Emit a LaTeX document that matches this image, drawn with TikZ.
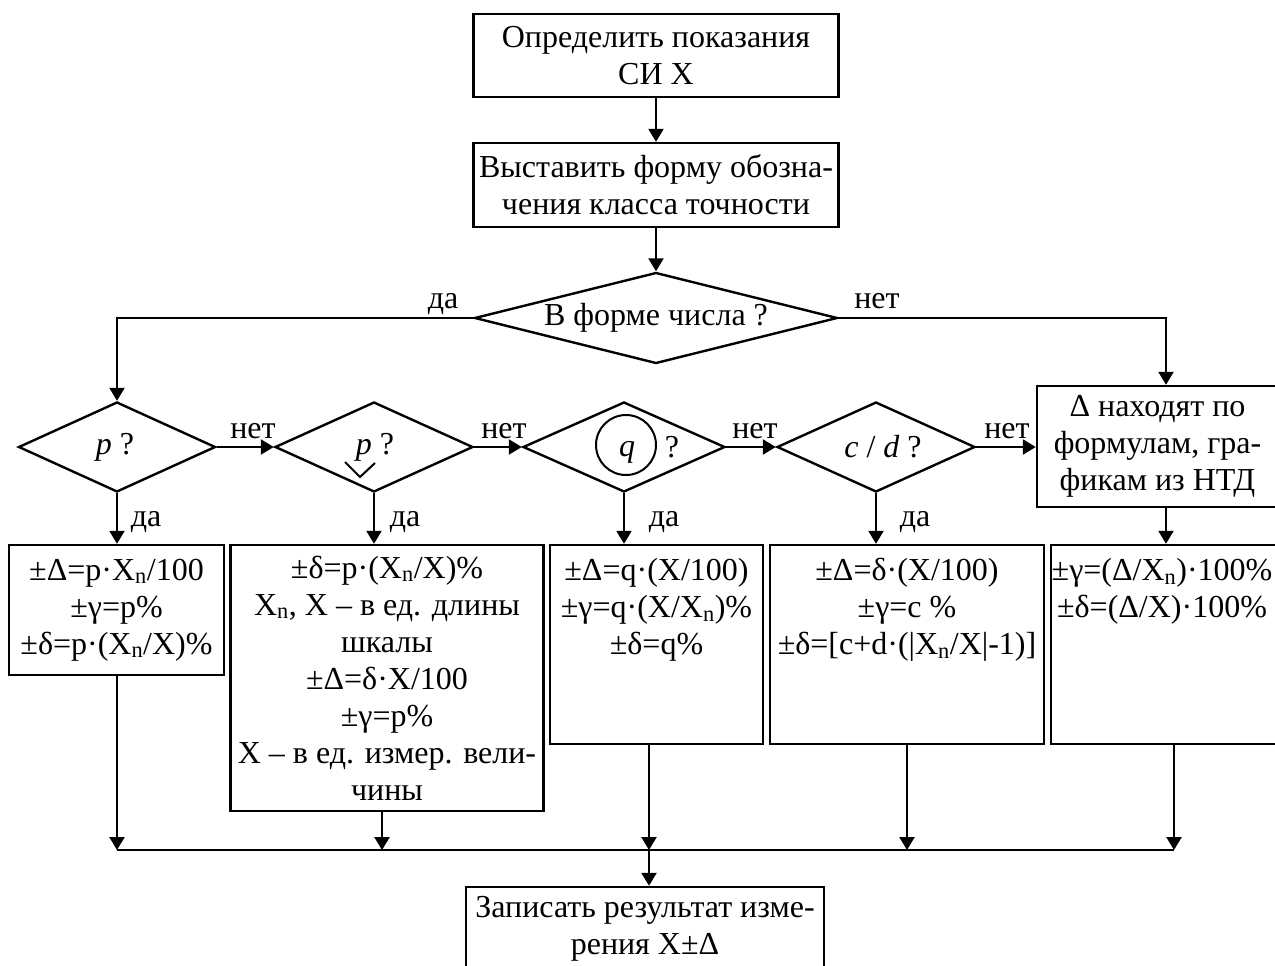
\documentclass[tikz,border=0pt]{standalone}
\usepackage{fontspec}
\setmainfont{Liberation Serif}
\usetikzlibrary{shapes.geometric,arrows.meta}
\newcommand{\xn}{X\textsubscript{n}}
\begin{document}
\begin{tikzpicture}[x=1pt,y=-1pt,
  every node/.style={font=\fontsize{32}{37}\selectfont, inner sep=0pt},
  box/.style={draw, line width=2.4pt, rectangle, align=center},
  dia/.style={draw, line width=2.4pt, diamond},
  conn/.style={line width=2.3pt},
  arr/.style={line width=2.3pt, -{Triangle[length=13pt,width=15pt]}},
  txt/.style={align=center, anchor=north},
  lbl/.style={anchor=base}]
\useasboundingbox (0,0) rectangle (1275,966);
\clip (0,0) rectangle (1275,966);

% top boxes
\node[box, minimum width=365pt, minimum height=83pt] (b1) at (656,55.5) {Определить показания\\СИ Х};
\node[box, minimum width=365pt, minimum height=84pt] (b2) at (656,185) {Выставить форму обозна-\\чения класса точности};
\node[dia, minimum width=363pt, minimum height=91pt] (dm) at (656,318) {};
\node (dmt) at (656,318) {В форме числа ?};

% diamonds row
\node[dia, minimum width=197pt, minimum height=90pt] (d1) at (117,447) {};
\node[dia, minimum width=198pt, minimum height=90pt] (d2) at (374,447) {};
\node[dia, minimum width=202pt, minimum height=90pt] (d3) at (624,447) {};
\node[dia, minimum width=198pt, minimum height=90pt] (d4) at (876,447) {};
\node (d1t) at (115,447) {\textit{p} ?};
\node (d2t) at (375,447) {\textit{p} ?};
\draw[line width=2pt] (345,462) -- (360,477) -- (375,463);
\node[draw, circle, line width=2pt, minimum size=60pt] (qc) at (626,445) {};
\node (d3t) at (627,452) {\textit{q}};
\node (d3q) at (672,447) {?};
\node (d4t) at (883,447) {\textit{c} / \textit{d} ?};

\node[box, minimum width=241pt, minimum height=121pt] (bD) at (1157.5,446.5) {Δ находят по\\формулам, гра-\\фикам из НТД};

% result boxes
\node[box, minimum width=215pt, minimum height=130pt] (bA) at (116.5,610) {±Δ=p·\xn/100\\±γ=p\%\\±δ=p·(\xn/X)\%};
\node[box, minimum width=313pt, minimum height=266pt] (bB) at (387,678) {±δ=p·(\xn/X)\%\\\xn, X – в ед. длины\\шкалы\\±Δ=δ·X/100\\±γ=p\%\\X – в ед. измер. вели-\\чины};
\node[box, minimum width=213pt, minimum height=199pt] (bC) at (656.5,644.5) {};
\node[box, minimum width=274pt, minimum height=199pt] (bDD) at (907,644.5) {};
\node[box, minimum width=230pt, minimum height=199pt] (bE) at (1166,644.5) {};
\node[txt] (tC) at ([yshift=-11pt]bC.north) {\strut ±Δ=q·(X/100)\\±γ=q·(X/\xn)\%\\±δ=q\%};
\node[txt] (tD) at ([yshift=-11pt]bDD.north) {\strut ±Δ=δ·(X/100)\\±γ=c \%\\±δ=[c+d·(|\xn/X|-1)]};
\node[txt] (tE) at ([yshift=-11pt,xshift=-4pt]bE.north) {\strut ±γ=(Δ/\xn)·100\%\\±δ=(Δ/X)·100\%};

\node[box, minimum width=358pt, minimum height=84pt] (bF) at (645,929) {Записать результат изме-\\рения Х±Δ};

% labels
\node[lbl] (l0) at (443,308) {да};
\node[lbl] (l1) at (877,308) {нет};
\node[lbl] (n1) at (253,438) {нет};
\node[lbl] (n2) at (504,438) {нет};
\node[lbl] (n3) at (755,438) {нет};
\node[lbl] (n4) at (1007,438) {нет};
\node[lbl] (y1) at (146,526) {да};
\node[lbl] (y2) at (405,526) {да};
\node[lbl] (y3) at (664,526) {да};
\node[lbl] (y4) at (915,526) {да};

% connectors
\coordinate (cL) at (117,318);
\coordinate (cR) at (1166,318);
\draw[arr] (b1.south) -- (b2.north);
\draw[arr] (b2.south) -- (dm.north);
\draw[arr] (dm.west) -- (cL) -- (d1.north);
\draw[arr] (dm.east) -- (cR) -- (cR |- bD.north);
\draw[arr] (d1.east) -- (d2.west);
\draw[arr] (d2.east) -- (d3.west);
\draw[arr] (d3.east) -- (d4.west);
\draw[arr] (d4.east) -- (d4.east -| bD.west);
\draw[arr] (d1.south) -- (d1.south |- bA.north);
\draw[arr] (d2.south) -- (d2.south |- bB.north);
\draw[arr] (d3.south) -- (d3.south |- bC.north);
\draw[arr] (d4.south) -- (d4.south |- bDD.north);
\draw[arr] (cR |- bD.south) -- (cR |- bE.north);

\coordinate (jA) at (117,850);
\coordinate (jB) at (382,850);
\coordinate (jC) at (649,850);
\coordinate (jD) at (907,850);
\coordinate (jE) at (1174,850);
\draw[conn] (jA) -- (jE);
\draw[arr] (jA |- bA.south) -- (jA);
\draw[arr] (jB |- bB.south) -- (jB);
\draw[arr] (jC |- bC.south) -- (jC);
\draw[arr] (jD |- bDD.south) -- (jD);
\draw[arr] (jE |- bE.south) -- (jE);
\draw[arr] (jC) -- (jC |- bF.north);
\end{tikzpicture}
\end{document}
